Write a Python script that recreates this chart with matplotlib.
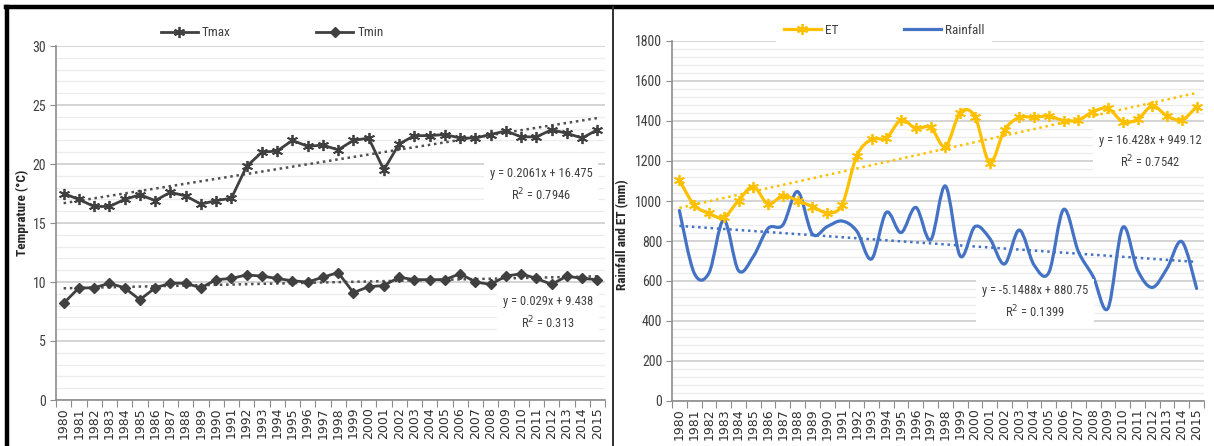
import numpy as np
import matplotlib
matplotlib.use("Agg")
import matplotlib.pyplot as plt
from matplotlib.path import Path
from matplotlib.patches import PathPatch
from matplotlib.lines import Line2D
from matplotlib.ticker import MultipleLocator, FixedLocator, NullFormatter
from matplotlib import font_manager

# ---------------- data ----------------
years = list(range(1980, 2016))
tmax = [17.5, 17.0, 16.4, 16.4, 17.0, 17.4, 16.9, 17.6, 17.3, 16.6, 16.9, 17.1,
        19.8, 21.0, 21.1, 22.0, 21.5, 21.6, 21.2, 22.0, 22.2, 19.5, 21.7, 22.4,
        22.4, 22.5, 22.2, 22.2, 22.5, 22.8, 22.3, 22.3, 22.9, 22.6, 22.2, 22.9]
tmin = [8.2, 9.5, 9.5, 9.9, 9.5, 8.5, 9.5, 9.9, 9.9, 9.5, 10.2, 10.3,
        10.6, 10.5, 10.3, 10.1, 10.0, 10.4, 10.8, 9.1, 9.6, 9.7, 10.4, 10.2,
        10.2, 10.2, 10.7, 10.0, 9.8, 10.5, 10.7, 10.3, 9.8, 10.5, 10.3, 10.2]
et = [1105, 980, 938, 918, 1002, 1072, 985, 1027, 1002, 972, 942, 980,
      1225, 1308, 1315, 1405, 1363, 1368, 1272, 1442, 1422, 1192, 1355, 1418,
      1418, 1425, 1402, 1405, 1447, 1463, 1397, 1408, 1475, 1425, 1405, 1472]
rain = [952, 640, 640, 905, 652, 722, 863, 880, 1047, 835, 872, 900,
        850, 710, 943, 842, 968, 805, 1075, 725, 872, 813, 685, 855,
        680, 642, 958, 747, 622, 463, 868, 655, 568, 663, 797, 563]

tmax_fit = (0.2061, 16.475, 0.7946)
tmin_fit = (0.029, 9.438, 0.313)
et_fit = (16.428, 949.12, 0.7542)
rain_fit = (-5.1488, 880.75, 0.1399)

left_legend = ["Tmax", "Tmin"]
right_legend = ["ET", "Rainfall"]
left_ylabel = "Temprature (°C)"
right_ylabel = "Rainfall and ET (mm)"

# ---------------- style ----------------
def pick(fams):
    for f in fams:
        try:
            font_manager.findfont(f, fallback_to_default=False)
            return f
        except Exception:
            pass
    return "DejaVu Sans"

NARROW = pick(["Liberation Sans Narrow", "Roboto Condensed", "Liberation Sans"])
plt.rcParams["font.family"] = [NARROW, "DejaVu Sans"]

W, H = 1214, 446
fig = plt.figure(figsize=(W / 100, H / 100), dpi=100)

def fx(px):
    return px / W

def fy(py):
    return 1 - py / H

GRAY_TXT = "#404040"
MAJ = "#d4d4d4"
MIN = "#ececec"
AXC = "#8c8c8c"

def setup_axis(ax, ymax, major, minor):
    n = len(years)
    ax.set_xlim(-0.5, n - 0.5)
    ax.set_ylim(0, ymax)
    for s in ["top", "right"]:
        ax.spines[s].set_visible(False)
    for s in ["left", "bottom"]:
        ax.spines[s].set_color(AXC)
        ax.spines[s].set_linewidth(1.2)
    ax.yaxis.set_major_locator(MultipleLocator(major))
    ax.yaxis.set_minor_locator(MultipleLocator(minor))
    ax.grid(True, axis="y", which="major", color=MAJ, lw=1.4, zorder=0)
    ax.grid(True, axis="y", which="minor", color=MIN, lw=0.9, zorder=0)
    ax.set_axisbelow(True)
    ax.tick_params(axis="y", which="major", direction="out", length=4,
                   color=AXC, labelsize=10, labelcolor=GRAY_TXT, pad=3)
    ax.tick_params(axis="y", which="minor", length=0)
    # x: tick marks between categories, labels at centres
    ax.xaxis.set_major_locator(FixedLocator(np.arange(-0.5, n, 1.0)))
    ax.xaxis.set_major_formatter(NullFormatter())
    ax.xaxis.set_minor_locator(FixedLocator(np.arange(n)))
    ax.set_xticks(np.arange(n), minor=True)
    ax.set_xticklabels([str(y) for y in years], minor=True, rotation=90,
                       fontsize=9, color="#303030", family="DejaVu Sans")
    ax.tick_params(axis="x", which="major", direction="out", length=5, color=AXC)
    ax.tick_params(axis="x", which="minor", length=0, pad=5)

def smooth(ax, x, y, color, lw, z):
    x = list(x); y = list(y)
    n = len(x)
    verts = [(x[0], y[0])]
    codes = [Path.MOVETO]
    for i in range(n - 1):
        xm, ym = (x[i - 1], y[i - 1]) if i > 0 else (x[i], y[i])
        xp, yp = (x[i + 2], y[i + 2]) if i + 2 < n else (x[i + 1], y[i + 1])
        c1 = (x[i] + (x[i + 1] - xm) / 6, y[i] + (y[i + 1] - ym) / 6)
        c2 = (x[i + 1] - (xp - x[i]) / 6, y[i + 1] - (yp - y[i]) / 6)
        verts += [c1, c2, (x[i + 1], y[i + 1])]
        codes += [Path.CURVE4] * 3
    p = PathPatch(Path(verts, codes), fill=False, edgecolor=color, lw=lw,
                  capstyle="round", joinstyle="round", zorder=z)
    ax.add_patch(p)

def eq_text(ax, xpix, ypix, fit):
    a, b, r2 = fit
    sign = "+" if b >= 0 else "-"
    s = f"y = {a:g}x + {b:g}\nR$^2$ = {r2:g}"
    fig.text(fx(xpix), fy(ypix), s, ha="center", va="center", fontsize=9,
             color="#404040", linespacing=1.45,
             bbox=dict(facecolor="white", edgecolor="none", pad=4), zorder=10)

STAR = (6, 2, 0)
idx = np.arange(len(years))
xs = idx + 1

# ---------------- left panel ----------------
axL = fig.add_axes([fx(56), fy(400), fx(605 - 56), (400 - 46) / H])
setup_axis(axL, 30, 5, 1)
DARK = "#404040"
axL.plot(idx, tmax, color=DARK, lw=2, marker=STAR, ms=8, mew=1.3, zorder=4)
axL.plot(idx, tmin, color=DARK, lw=2, marker="D", ms=5, zorder=4)
axL.plot(idx, tmax_fit[0] * xs + tmax_fit[1], color="#505050", lw=1.8,
         ls=(0, (1, 1.5)), zorder=3)
axL.plot(idx, tmin_fit[0] * xs + tmin_fit[1], color="#505050", lw=1.8,
         ls=(0, (1, 1.5)), zorder=3)
eq_text(axL, 541, 185, tmax_fit)
eq_text(axL, 548, 313, tmin_fit)

hl = [Line2D([], [], color=DARK, lw=2, marker=STAR, ms=8, mew=1.3),
      Line2D([], [], color=DARK, lw=2, marker="D", ms=5)]
fig.legend(hl, left_legend, loc="center", bbox_to_anchor=(fx(272), fy(33)),
           ncol=2, frameon=False, fontsize=9.5, handlelength=2.8,
           columnspacing=6.5, handletextpad=0.3, labelcolor="#404040")
fig.text(fx(22), fy(213), left_ylabel, rotation=90, ha="center", va="center",
         fontsize=9.5, fontweight="bold", color="#262626")

# ---------------- right panel ----------------
axR = fig.add_axes([fx(672), fy(401), fx(1204 - 672), (401 - 41) / H])
setup_axis(axR, 1800, 200, 40)
GOLD = "#FFC000"
BLUE = "#4472C4"
smooth(axR, idx, rain, BLUE, 2.3, 4)
smooth(axR, idx, et, GOLD, 2.3, 5)
axR.plot(idx, et, ls="none", color=GOLD, marker=STAR, ms=8, mew=1.3, zorder=6)
axR.plot(idx, et_fit[0] * xs + et_fit[1], color=GOLD, lw=1.8,
         ls=(0, (1, 1.5)), zorder=3)
axR.plot(idx, rain_fit[0] * xs + rain_fit[1], color=BLUE, lw=1.8,
         ls=(0, (1, 1.5)), zorder=3)
eq_text(axR, 1150, 152, et_fit)
eq_text(axR, 1035, 302, rain_fit)

hr = [Line2D([], [], color=GOLD, lw=2.3, marker=STAR, ms=8, mew=1.3),
      Line2D([], [], color=BLUE, lw=2.3)]
fig.legend(hr, right_legend, loc="center", bbox_to_anchor=(fx(884), fy(30)),
           ncol=2, frameon=True, facecolor="white", edgecolor="none",
           framealpha=1, fontsize=9.5, handlelength=2.8, columnspacing=5,
           handletextpad=0.3, labelcolor="#404040", borderpad=0.6)
fig.text(fx(623), fy(235), right_ylabel, rotation=90, ha="center", va="center",
         fontsize=9.5, fontweight="bold", color="#262626")

# ---------------- frame ----------------
fig.add_artist(Line2D([fx(6), 1], [fy(7), fy(7)], color="black", lw=3.2))
fig.add_artist(Line2D([fx(7), fx(7)], [0, fy(7)], color="black", lw=3.2))
fig.add_artist(Line2D([fx(613), fx(613)], [0, fy(7)], color="#303030", lw=1.4))

fig.savefig("out.png", dpi=100, facecolor="white")
